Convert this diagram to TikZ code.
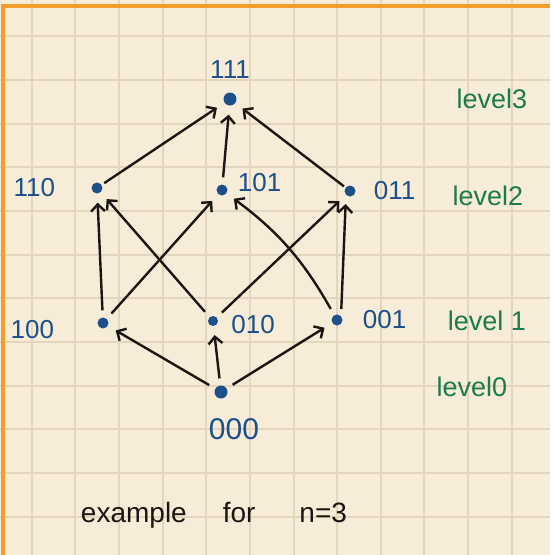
\documentclass[tikz,border=0pt]{standalone}
\usepackage{fontspec}
\setmainfont{Liberation Sans}
\usepackage{xcolor}
\definecolor{paper-bg}{HTML}{F6ECD7}
\definecolor{paper-grid}{HTML}{E4D6BC}
\definecolor{paper-edge}{HTML}{F49C2C}
\definecolor{pen-blue}{HTML}{1D4F8B}
\definecolor{pen-green}{HTML}{1E7A4C}
\definecolor{pen-black}{HTML}{1B1612}
\usetikzlibrary{arrows.meta,positioning}

\begin{document}
\begin{tikzpicture}[x=1pt, y=-1pt,
  vtx/.style={circle, fill=pen-blue, inner sep=0pt, minimum size=11pt},
  bits/.style={text=pen-blue, inner sep=0pt, font=\fontsize{26}{30}\selectfont},
  lvl/.style={text=pen-green, inner sep=0pt, anchor=base, font=\fontsize{27}{32}\selectfont},
  arr/.style={-{Straight Barb[length=7pt,width=14pt]}, line width=2.4pt, pen-black,
              shorten >=9pt, shorten <=7pt}]

  % paper
  \useasboundingbox (0,0) rectangle (550,555);
  \fill[paper-bg] (0,0) rectangle (550,555);
  \foreach \k in {0,...,11} {
    \draw[paper-grid, line width=2pt] ({31.6+43.65*\k},0) -- ++(0,555);
    \draw[paper-grid, line width=2pt] (0,{36.4+43.65*\k}) -- ++(550,0);
  }
  \draw[paper-edge, line width=3.5pt] (3,555) -- (3,6) -- (550,6);

  % vertices
  \node[vtx, minimum size=13pt] (v111) at (230,99) {};
  \node[vtx] (v110) at (97,188) {};
  \node[vtx] (v101) at (222,190) {};
  \node[vtx] (v011) at (350,191) {};
  \node[vtx] (v100) at (103,323) {};
  \node[vtx, minimum size=10pt] (v010) at (213,321) {};
  \node[vtx] (v001) at (337,320) {};
  \node[vtx, minimum size=13pt] (v000) at (221,392) {};

  % bit strings
  \node[bits, above=14pt of v111] (l111) {111};
  \node[bits, left=36pt of v110] (l110) {110};
  \node[bits, right=10pt of v101, yshift=7pt] (l101) {101};
  \node[bits, right=18pt of v011] (l011) {011};
  \node[bits, left=43pt of v100, yshift=-7pt] (l100) {100};
  \node[bits, right=13pt of v010, yshift=-4pt] (l010) {010};
  \node[bits, right=20pt of v001] (l001) {001};
  \node[bits, below=20pt of v000, xshift=13pt, font=\fontsize{30}{34}\selectfont] (l000) {000};

  % levels
  \node[lvl] (lev3) at (492,108) {level3};
  \node[lvl] (lev2) at (488,205) {level2};
  \node[lvl] (lev1) at (487,330) {level 1};
  \node[lvl] (lev0) at (472,396) {level0};

  \node[anchor=base, inner sep=0pt, text=pen-black, font=\fontsize{28}{32}\selectfont]
    (cap) at (214,522) {example\hspace{36pt}for\hspace{44pt}n=3};

  % edges
  \draw[arr] (v000) -- (v100);
  \draw[arr] (v000) -- (v010);
  \draw[arr] (v000) -- (v001);
  \draw[arr] (v100) -- (v110);
  \draw[arr] (v100) -- (v101);
  \draw[arr] (v010) -- (v110);
  \draw[arr] (v010) -- (v011);
  \draw[arr] (v001) to[bend right=12] (v101);
  \draw[arr] (v001.north east) -- (v011.south west);
  \draw[arr, shorten <=3pt] (v110) -- (v111);
  \draw[arr] (v101) -- (v111);
  \draw[arr, shorten <=2pt] (v011) -- (v111);

\end{tikzpicture}
\end{document}
